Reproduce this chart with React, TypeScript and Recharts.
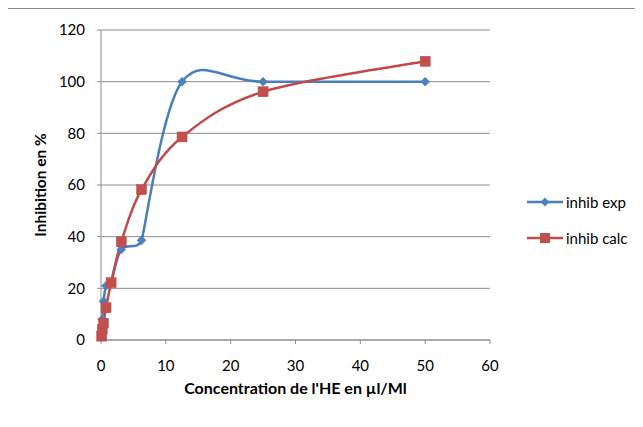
import React from "react";
import { CartesianGrid, Line, LineChart, XAxis, YAxis } from "recharts";

const concExp = [0.195, 0.39, 0.78, 1.5625, 3.125, 6.25, 12.5, 25, 50];
const inhibExp = [8, 15, 21, 22, 35, 38.6, 100, 100, 100];

const concCalc = [0.098, 0.195, 0.39, 0.78, 1.5625, 3.125, 6.25, 12.5, 25, 50];
const inhibCalc = [1.5, 4, 6.5, 12.5, 22.2, 38, 58.2, 78.6, 96.1, 107.9];

const xTicks = [0, 10, 20, 30, 40, 50, 60];
const yTicks = [0, 20, 40, 60, 80, 100, 120];

const BLUE = "#4A7EBB";
const BLUE_FILL = "#4F81BD";
const RED = "#BE4B48";
const RED_FILL = "#C0504D";
const FONT = "Lato, 'Open Sans', sans-serif";

const expData = concExp.map((c, i) => ({ conc: c, value: inhibExp[i] }));
const calcData = concCalc.map((c, i) => ({ conc: c, value: inhibCalc[i] }));

// excel-like smoothing: bezier, tangent p[i+1]-p[i-1], length |t|/6
// but not more than half of the shorter neighbouring segment
const smoothCurve = (context: any) => {
    let pts: number[][] = [];
    const dist = (a: number[], b: number[]) =>
        Math.hypot(b[0] - a[0], b[1] - a[1]);
    const tangent = (i: number) => {
        const prev = pts[i - 1] || pts[i];
        const next = pts[i + 1] || pts[i];
        const tx = next[0] - prev[0];
        const ty = next[1] - prev[1];
        const len = Math.hypot(tx, ty);
        if (!len) return [0, 0];
        const lims: number[] = [];
        if (pts[i - 1]) lims.push(dist(pts[i - 1], pts[i]) / 2);
        if (pts[i + 1]) lims.push(dist(pts[i], pts[i + 1]) / 2);
        const m = Math.min(len / 6, ...lims);
        return [(tx / len) * m, (ty / len) * m];
    };
    return {
        areaStart() {},
        areaEnd() {},
        lineStart() {
            pts = [];
        },
        point(x: number, y: number) {
            pts.push([+x, +y]);
        },
        lineEnd() {
            if (!pts.length) return;
            context.moveTo(pts[0][0], pts[0][1]);
            for (let i = 0; i < pts.length - 1; i++) {
                const t1 = tangent(i);
                const t2 = tangent(i + 1);
                context.bezierCurveTo(
                    pts[i][0] + t1[0],
                    pts[i][1] + t1[1],
                    pts[i + 1][0] - t2[0],
                    pts[i + 1][1] - t2[1],
                    pts[i + 1][0],
                    pts[i + 1][1],
                );
            }
        },
    };
};

const Diamond = (props: any) => {
    const { cx, cy, index } = props;
    if (cx == null || cy == null) return null;
    const r = 4.5;
    return (
        <polygon
            key={`d-${index}`}
            points={`${cx},${cy - r} ${cx + r},${cy} ${cx},${cy + r} ${cx - r},${cy}`}
            fill={BLUE_FILL}
            stroke={BLUE}
            strokeWidth={0.5}
        />
    );
};

const Square = (props: any) => {
    const { cx, cy, index } = props;
    if (cx == null || cy == null) return null;
    const s = 10;
    return (
        <rect
            key={`s-${index}`}
            x={cx - s / 2}
            y={cy - s / 2}
            width={s}
            height={s}
            fill={RED_FILL}
            stroke={RED}
            strokeWidth={0.5}
        />
    );
};

const legendItems = [
    { name: "inhib exp", color: BLUE, fill: BLUE_FILL, square: false },
    { name: "inhib calc", color: RED, fill: RED_FILL, square: true },
];

export default function App() {
    return (
        <div
            style={{
                position: "relative",
                width: 643,
                height: 427,
                border: "1px solid #8c8c8c",
                marginLeft: -1,
                boxSizing: "border-box",
                background: "#fff",
            }}
        >
            <LineChart
                width={635}
                height={419}
                margin={{ top: 21, right: 153, bottom: 28, left: 0 }}
            >
                <CartesianGrid
                    vertical={false}
                    stroke="#8c8c8c"
                    strokeWidth={1}
                    horizontalValues={yTicks}
                />
                <XAxis
                    type="number"
                    dataKey="conc"
                    domain={[0, 60]}
                    ticks={xTicks}
                    allowDuplicatedCategory={false}
                    height={60}
                    stroke="#8c8c8c"
                    tickSize={4}
                    tickMargin={16}
                    tick={{ fill: "#000", fontSize: 15, fontFamily: FONT }}
                    label={{
                        value: "Concentration de l'HE en µl/Ml",
                        position: "insideBottom",
                        offset: 6,
                        style: {
                            fill: "#000",
                            fontSize: 16,
                            fontWeight: 700,
                            fontFamily: FONT,
                        },
                    }}
                />
                <YAxis
                    type="number"
                    domain={[0, 120]}
                    ticks={yTicks}
                    width={93}
                    stroke="#8c8c8c"
                    tickSize={4}
                    tickMargin={12}
                    tick={{ fill: "#000", fontSize: 15, fontFamily: FONT }}
                    label={{
                        value: "Inhibition en %",
                        angle: -90,
                        position: "insideLeft",
                        offset: 32,
                        style: {
                            fill: "#000",
                            fontSize: 15.5,
                            fontWeight: 700,
                            fontFamily: FONT,
                            textAnchor: "middle",
                        },
                    }}
                />
                <Line
                    data={expData}
                    dataKey="value"
                    name="inhib exp"
                    type={smoothCurve as any}
                    stroke={BLUE}
                    strokeWidth={2.5}
                    dot={Diamond}
                    activeDot={false}
                    isAnimationActive={false}
                />
                <Line
                    data={calcData}
                    dataKey="value"
                    name="inhib calc"
                    type={smoothCurve as any}
                    stroke={RED}
                    strokeWidth={2.5}
                    dot={Square}
                    activeDot={false}
                    isAnimationActive={false}
                />
            </LineChart>
            <div
                style={{
                    position: "absolute",
                    left: 519,
                    top: 175,
                    fontFamily: FONT,
                    fontSize: 15,
                    color: "#000",
                }}
            >
                {legendItems.map((item) => (
                    <div
                        key={item.name}
                        style={{ display: "flex", alignItems: "center", height: 36 }}
                    >
                        <svg width={38} height={12}>
                            <line
                                x1={0}
                                y1={6}
                                x2={36}
                                y2={6}
                                stroke={item.color}
                                strokeWidth={2.5}
                            />
                            {item.square ? (
                                <rect x={13} y={1} width={10} height={10} fill={item.fill} />
                            ) : (
                                <polygon points="18,1.5 22.5,6 18,10.5 13.5,6" fill={item.fill} />
                            )}
                        </svg>
                        <span style={{ marginLeft: 1 }}>{item.name}</span>
                    </div>
                ))}
            </div>
        </div>
    );
}
